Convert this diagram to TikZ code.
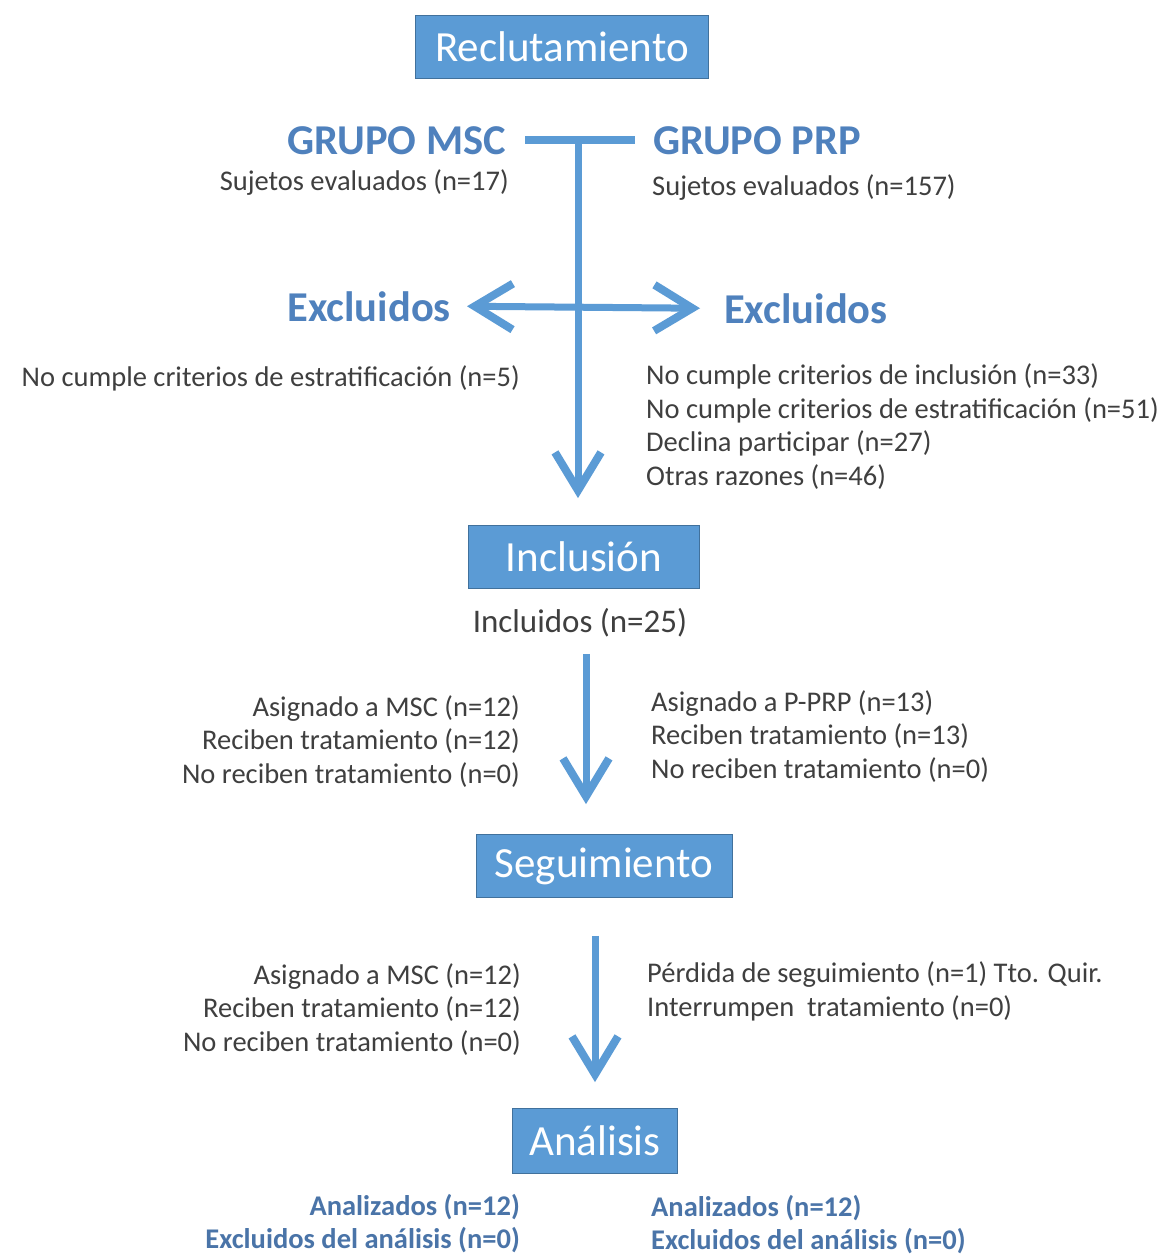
\documentclass[tikz,border=0pt]{standalone}
\usepackage{fontspec}
\setmainfont{Carlito}
\usepackage{xcolor}
\usepackage{tikz}
\usetikzlibrary{arrows.meta,positioning}

\definecolor{boxblue}{HTML}{5B9BD5}
\definecolor{boxedge}{HTML}{41719C}
\definecolor{headblue}{HTML}{4F81BD}
\definecolor{resblue}{HTML}{4A74A8}
\definecolor{notegray}{HTML}{3F3F3F}

\begin{document}
\begin{tikzpicture}[
    x=1pt, y=-1pt,
    stage/.style={fill=boxblue, draw=boxedge, line width=0.8pt, minimum height=63pt, inner sep=0pt, text=white, font=\fontsize{43}{48}\selectfont},
    head/.style={inner sep=0pt, text=headblue, font=\fontsize{42.5}{48}\selectfont\bfseries},
    note/.style={inner sep=0pt, text=notegray, align=left, font=\fontsize{28.5}{33.5}\selectfont},
    noteR/.style={note, align=right},
    result/.style={inner sep=0pt, text=resblue, font=\fontsize{28.5}{33}\selectfont\bfseries},
    flow/.style={draw=boxblue, line width=7pt, -{Straight Barb[length=38pt, width=46pt, line width=8pt]}},
    dflow/.style={draw=boxblue, line width=7pt, {Straight Barb[length=38pt, width=46pt, line width=8pt]}-{Straight Barb[length=38pt, width=46pt, line width=8pt]}},
    bar/.style={draw=boxblue, line width=8pt}
]
    \fill[white] (0,0) rectangle (1169,1256);
    \useasboundingbox (0,0) rectangle (1169,1256);

    % Recruitment
    \node[stage, minimum width=293pt] (recl) at (562,47) {Reclutamiento};
    \node[head, anchor=base east] (msc) at (506,154) {GRUPO MSC};
    \node[head, anchor=base west] (prp) at (653,154) {GRUPO PRP};
    \node[note, anchor=base east] (evalmsc) at (509,190) {Sujetos evaluados (n=17)};
    \node[note, anchor=base west] (evalprp) at (652,195) {Sujetos evaluados (n=157)};

    % Exclusions (base = last line)
    \node[head, anchor=base east] (exclmsc) at (451,321) {Excluidos};
    \node[head, anchor=base west] (exclprp) at (724,323) {Excluidos};
    \node[note, anchor=base east] (motmsc) at (520,386) {No cumple criterios de estratificación (n=5)};
    \node[note, anchor=base west] (motprp) at (646,485) {No cumple criterios de inclusión (n=33)\\
        No cumple criterios de estratificación (n=51)\\
        Declina participar (n=27)\\
        Otras razones (n=46)};

    % Inclusion
    \node[stage, minimum width=231pt] (incl) at (584,557) {Inclusión};
    \node[note, font=\fontsize{33}{38}\selectfont, anchor=base] (incd) at (580,632) {Incluidos (n=25)};
    \node[noteR, anchor=base east] (asigmsc) at (520,783) {Asignado a MSC (n=12)\\
        Reciben tratamiento (n=12)\\
        No reciben tratamiento (n=0)};
    \node[note, anchor=base west] (asigprp) at (651,778) {Asignado a P-PRP (n=13)\\
        Reciben tratamiento (n=13)\\
        No reciben tratamiento (n=0)};

    % Follow-up
    \node[stage, minimum width=256pt] (seg) at (604,866) {Seguimiento};
    \node[noteR, anchor=base east] (segmsc) at (521,1051) {Asignado a MSC (n=12)\\
        Reciben tratamiento (n=12)\\
        No reciben tratamiento (n=0)};
    \node[note, anchor=base west] (segprp) at (647,1016) {Pérdida de seguimiento (n=1) Tto. Quir.\\
        Interrumpen\ \ tratamiento (n=0)};

    % Analysis
    \node[stage, minimum width=165pt, minimum height=65pt] (anal) at (595,1141) {Análisis};
    \node[result, align=right, anchor=base east] (resmsc) at (520,1248) {Analizados (n=12)\\
        Excluidos del análisis (n=0)};
    \node[result, align=left, anchor=base west] (resprp) at (651,1249) {Analizados (n=12)\\
        Excluidos del análisis (n=0)};

    % Connectors
    \coordinate (split) at (578,140);
    \draw[bar] ([xshift=19pt]msc.east) -- ([xshift=-18pt]prp.west);
    \draw[flow, shorten >=27pt] (split) -- (split |- incl.north);
    \draw[dflow] ([xshift=16pt]exclmsc.east) -- ([xshift=-24pt]exclprp.west);
    \draw[flow, shorten <=17pt, shorten >=30pt] ([xshift=6pt]incd.south) -- ([xshift=6pt]incd.south |- seg.north);
    \draw[flow, shorten <=38pt, shorten >=26pt] (anal.north |- seg.south) -- (anal.north);

\end{tikzpicture}
\end{document}
